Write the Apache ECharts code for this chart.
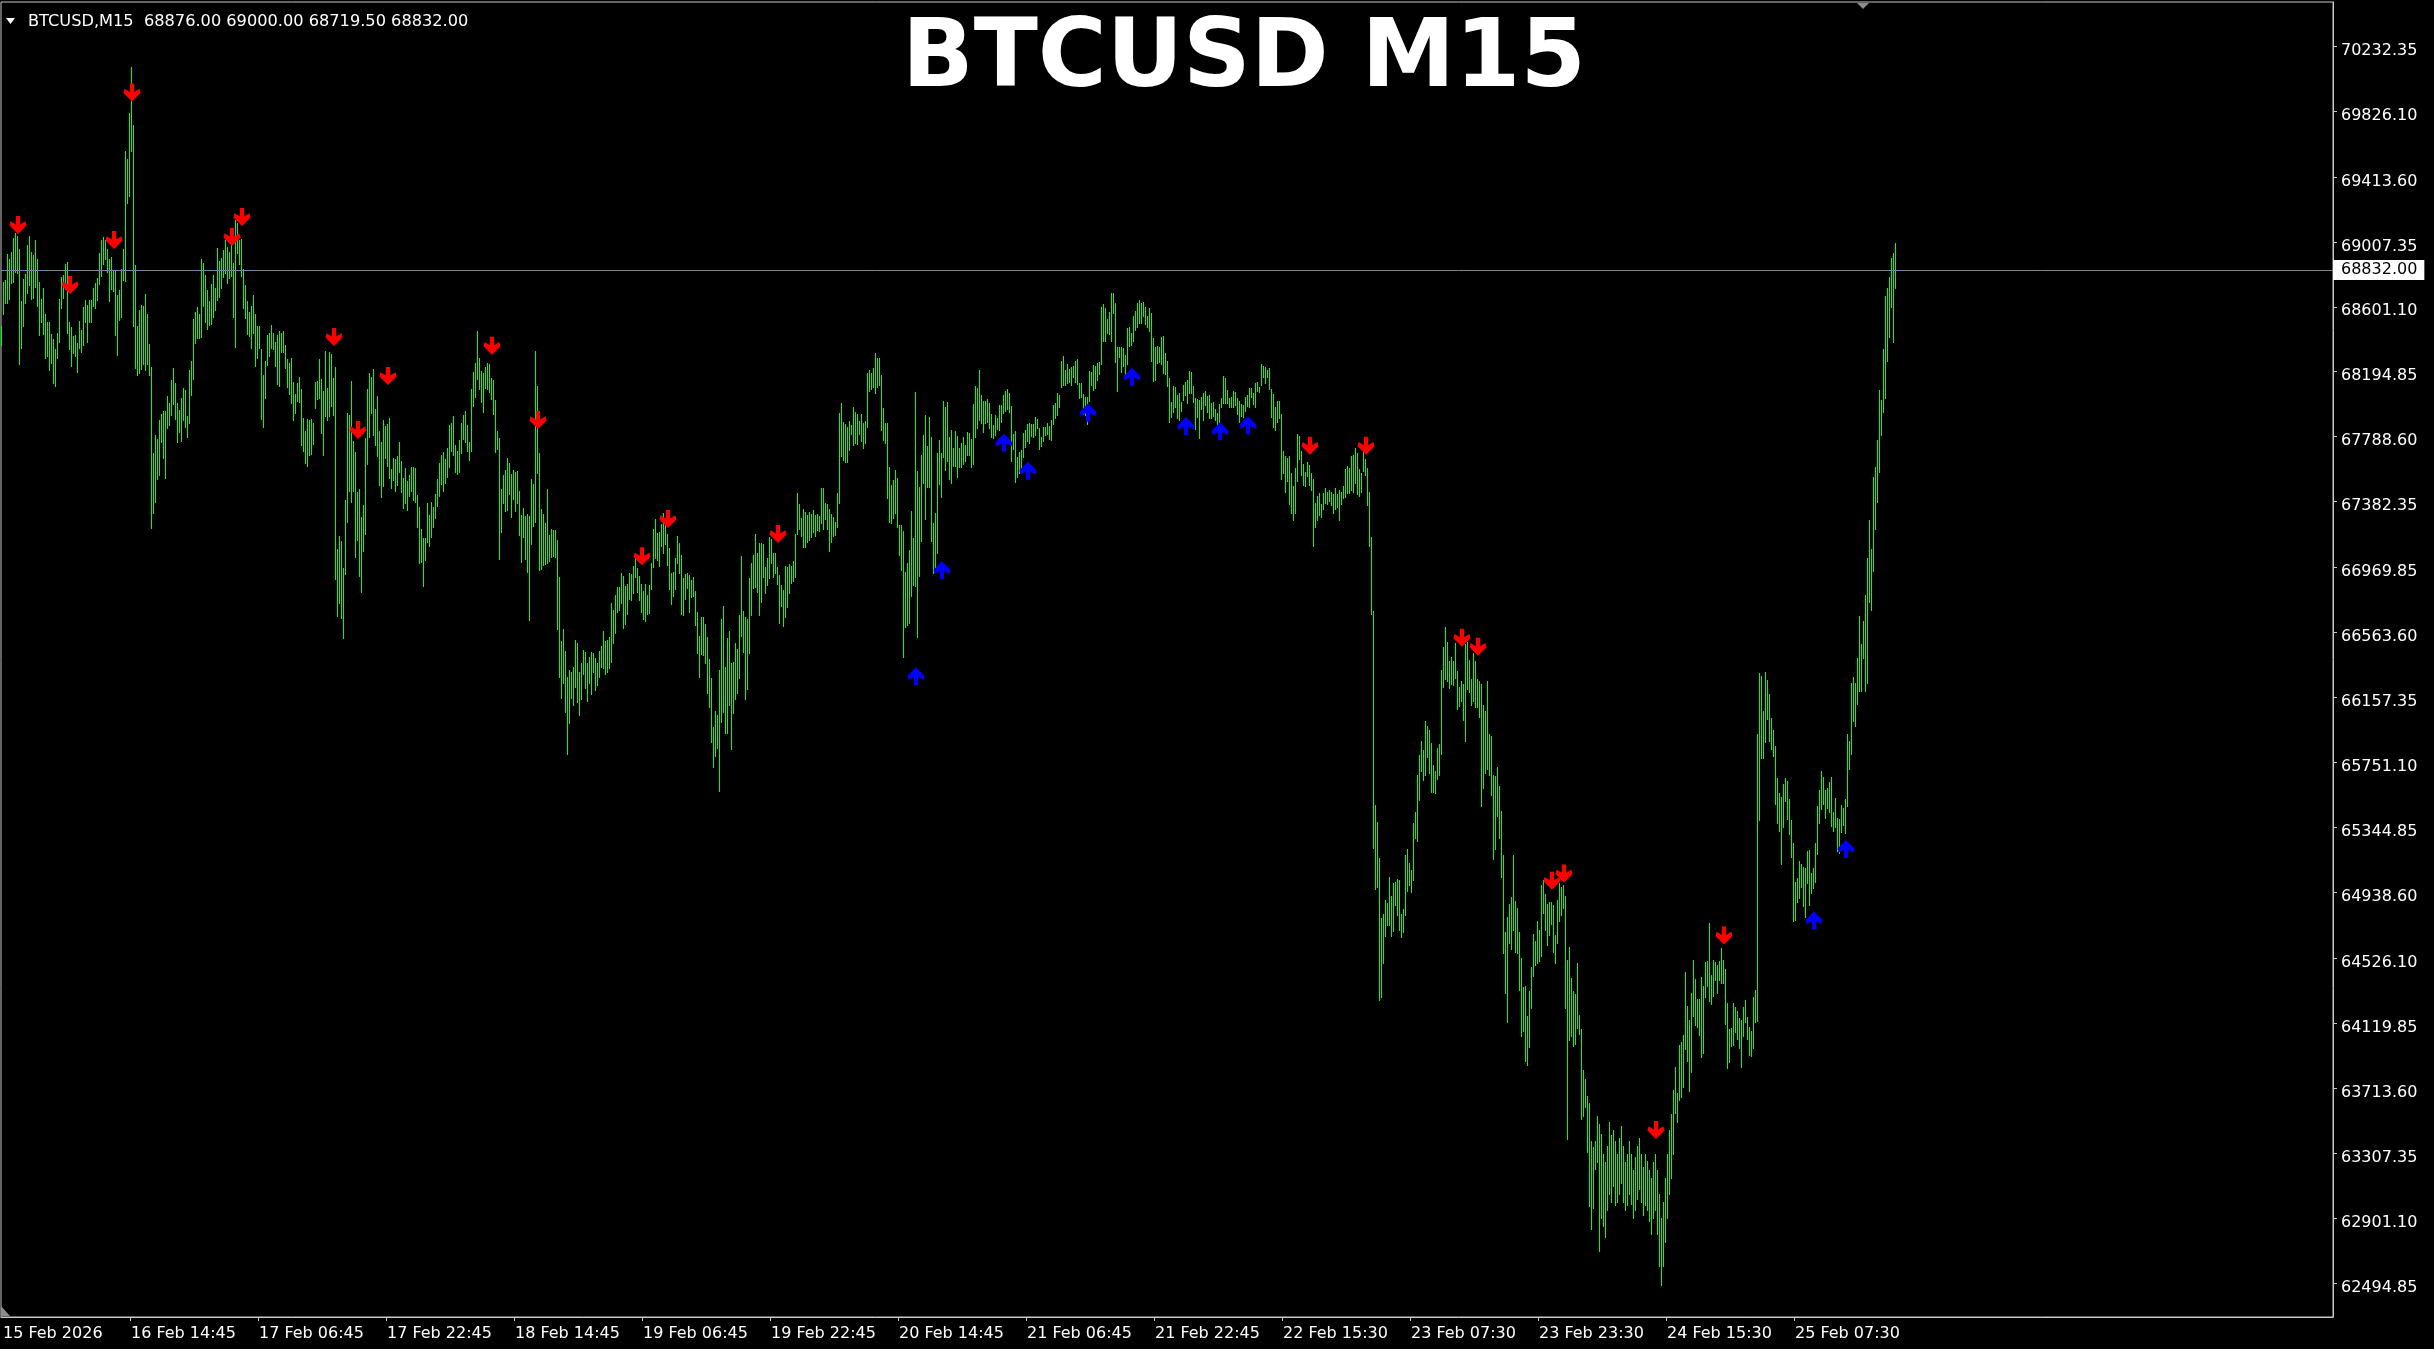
<!DOCTYPE html>
<html><head><meta charset="utf-8">
<script src="https://cdn.jsdelivr.net/npm/echarts@6.0.0/dist/echarts.min.js"></script>
<style>html,body{margin:0;padding:0;background:#000;overflow:hidden}#c{width:2434px;height:1349px}</style>
</head><body><div id="c"></div>
<script>
// ---- data (BTCUSD M15 bar highs / lows, bar index = position in array) ----
const highs = [
68483,68759,68771,68931,68902,68945,69034,69063,69046,68962,
68639,68775,68806,68986,69041,68943,68926,69017,68902,68759,
68651,68718,68555,68507,68503,68431,68400,68340,68435,68651,
68787,68799,68871,68883,68503,68474,68416,68424,68376,68514,
68459,68598,68644,68615,68646,68644,68718,68747,68783,68938,
69017,69039,69017,68962,68902,68914,68830,68826,68675,68704,
68835,68962,69575,69525,69812,70102,69738,68862,68483,68584,
68615,68608,68680,68555,68371,68225,67688,67801,67777,67890,
67933,67952,67952,68040,68000,68141,68220,68124,68000,67957,
68028,68095,68081,67921,68208,68263,68526,68567,68598,68555,
68902,68878,68802,68706,68639,68742,68799,68718,68967,68890,
68907,68957,69017,68974,68945,69015,68878,69142,69125,69017,
69027,68838,68735,68639,68567,68608,68675,68555,68479,68479,
68340,68172,68263,68424,68440,68488,68440,68383,68424,68447,
68440,68447,68359,68277,68249,68280,68129,68057,68124,68160,
68088,67904,67825,67897,67890,67897,67873,68129,68136,68273,
68147,68077,68325,68094,68316,68304,68154,68223,67089,67170,
67136,66967,67390,67934,67927,68135,67760,67691,67441,67464,
67284,67360,67783,68084,68186,68165,68209,67962,68043,67823,
67753,67890,67858,67869,67904,67584,67654,67649,67668,67758,
67638,67529,67591,67510,67552,67598,67598,67591,67422,67348,
67210,67152,67156,67372,67298,67383,67348,67429,67522,67621,
67672,67691,67649,67719,67862,67874,67915,67737,67702,67770,
67874,67922,67950,67862,67753,68084,68193,68251,68447,68279,
68200,68188,68223,68251,68246,68158,68142,68015,67823,67781,
67464,67552,67580,67656,67626,67557,67580,67568,67573,67452,
67298,67341,67295,67307,67291,67522,67492,68325,68107,67684,
67337,67302,67249,67460,67175,67214,67203,67205,67140,66909,
66511,66585,66446,66284,66330,66319,66346,66515,66497,66314,
66372,66457,66441,66376,66411,66441,66434,66407,66376,66450,
66481,66573,66511,66515,66534,66747,66705,66798,66846,66851,
66937,66916,66856,66867,66939,66932,66978,67052,66967,66920,
66867,66823,66867,66798,66861,66997,67209,67274,67184,67195,
67240,67313,67251,67180,67090,66934,66944,67028,67167,67126,
67049,66903,66928,66938,66924,66892,66909,66823,66694,66542,
66663,66659,66617,66538,66398,66277,65975,66073,66048,66329,
66648,66730,66350,66531,66573,66375,66381,66496,66459,66673,
67042,66698,66659,66646,66907,66997,67049,67180,67063,67122,
67122,67117,66972,67028,67159,67147,67059,67063,66976,66924,
66861,66830,66980,66972,66992,66982,67013,67180,67434,67368,
67282,67334,67320,67299,67320,67305,67330,67299,67305,67293,
67466,67466,67372,67368,67334,67303,67284,67257,67439,67935,
67997,67883,67866,67851,67889,67862,67972,67945,67931,67887,
67928,67872,67889,68189,68206,68189,68216,68310,68279,68279,
68175,67966,67876,67872,67601,67487,67518,67580,67528,67236,
67236,67199,66944,67001,67080,67324,67153,68070,67574,67476,
67674,67799,67924,67733,67910,67785,67251,67309,67689,67768,
67689,68014,67976,68008,67785,67831,67716,67826,67793,67716,
67747,67784,67736,67820,67809,67772,67993,68105,68091,68206,
68049,68014,68012,68024,67997,67930,67862,67924,67903,67987,
67985,68049,68076,68085,68060,67980,67805,67824,67663,67690,
67705,67809,67830,67868,67872,67868,67868,67909,67897,67841,
67789,67847,67851,67872,67855,67893,67987,68001,68064,68051,
68264,68293,68206,68241,68210,68226,68230,68264,68272,68126,
68122,68055,68034,68039,68201,68193,68237,68230,68247,68258,
68602,68618,68591,68522,68570,68685,68685,68623,68347,68347,
68351,68345,68299,68466,68472,68439,68543,68575,68627,68643,
68623,68633,68602,68543,68591,68564,68404,68351,68356,68351,
68414,68418,68310,68264,68153,68003,68105,68101,68049,68064,
68003,68112,68133,68143,68201,68195,68105,68028,68022,68018,
68034,68060,68076,68043,68049,67997,68003,67960,67939,67993,
68028,68168,68153,68080,68028,68039,68076,68066,68028,68014,
67993,67987,68034,68049,68091,68091,68064,68122,68133,68101,
68243,68230,68226,68206,68216,68087,68055,67972,68014,68014,
67930,67700,67665,67654,67665,67560,67479,67595,67805,67795,
67700,67619,67567,67630,67612,67560,67524,67374,67419,67437,
67367,67437,67465,67444,67454,67444,67430,67465,67430,67454,
67444,67479,67584,67605,67595,67665,67675,67718,67689,67584,
67560,67700,67647,67595,67444,67163,66700,65482,65376,65155,
64780,64804,64892,64874,65032,64916,64997,65004,65022,65015,
64804,64832,65173,65208,65120,65078,65373,65443,65671,65798,
65885,65829,66008,65980,65956,65875,65734,65699,65840,65868,
66331,66471,66601,66507,66384,66412,66384,66496,66321,66226,
66261,66243,66489,66507,66391,66271,66436,66384,66271,66261,
66243,66110,66075,66261,65927,65917,65675,65664,65724,65604,
65446,65173,64692,64787,64867,64910,65173,64885,64839,64692,
64530,64348,64355,64165,64320,64471,64681,64636,64762,64706,
64987,65015,64927,64864,64881,64881,64857,64671,64892,64997,
64969,64987,64916,64516,64594,64401,64320,64302,64495,64172,
64085,63828,63769,63663,63618,63383,63348,63383,63541,63488,
63430,63300,63250,63350,63500,63420,63450,63380,63300,63400,
63480,63350,63250,63300,63380,63300,63200,63280,63350,63400,
63300,63220,63300,63260,63200,63150,63250,63300,63200,63050,
62900,63000,63150,63300,63450,63550,63700,63844,63686,63984,
64002,64047,64441,64230,64142,64307,64518,64398,64272,64272,
64412,64353,64504,64511,64746,64423,64518,64504,64483,64511,
64588,64518,64458,64248,64083,64090,64248,64223,64195,64153,
64142,64223,64265,64160,64097,64072,64283,64328,65932,66308,
66294,66073,66318,66266,66178,66027,65957,65852,65652,65557,
65536,65616,65652,65634,65522,65388,65248,65002,65030,65136,
65115,65097,65090,65195,65202,65062,65090,65248,65476,65581,
65697,65662,65581,65592,65627,65662,65441,65529,65406,65395,
65487,65466,65522,65932,65887,66245,66283,66248,66406,66669,
66494,66634,66799,67031,67266,67084,67536,67600,67768,68081,
68021,68337,68670,68716,68786,68905,68940,69000
];
const lows = [
68359,68555,68627,68627,68651,68751,68759,68818,68811,68244,
68344,68483,68627,68687,68735,68651,68656,68723,68608,68424,
68503,68431,68280,68292,68208,68249,68124,68107,68280,68383,
68596,68656,68711,68435,68340,68230,68311,68292,68196,68344,
68316,68364,68503,68383,68503,68507,68603,68596,68646,68742,
68795,68866,68902,68818,68639,68711,68699,68424,68301,68519,
68538,68766,68764,69249,69297,69577,68483,68220,68172,68184,
68215,68244,68208,68244,68177,67219,67310,67382,67526,67550,
67753,67657,67530,67844,67861,67925,67992,67897,67753,67820,
67760,67890,67849,67784,67873,68052,68148,68376,68407,68407,
68412,68608,68507,68464,68488,68495,68536,68579,68646,68663,
68716,68790,68814,68747,68783,68795,68538,68352,68938,68871,
68795,68591,68531,68431,68416,68344,68435,68232,68280,68344,
67897,67849,68033,68239,68292,68344,68340,68232,68117,68107,
68316,68320,68220,68100,68057,68000,67890,67937,68009,68004,
67734,67698,67621,67605,67674,67681,67741,67969,68024,68028,
67811,67677,67915,67892,67920,67980,67927,66897,66666,66751,
66654,66532,66932,67256,67452,67383,67452,67036,67140,66920,
66816,67075,67182,67619,67788,67938,67800,67737,67668,67487,
67413,67483,67656,67608,67529,67469,67515,67446,67487,67568,
67441,67344,67376,67330,67418,67452,67395,67383,67221,67001,
67006,66856,67020,67129,67105,67159,67221,67279,67353,67418,
67494,67448,67499,67538,67598,67696,67672,67568,67557,67568,
67684,67776,67753,67702,67642,67696,67980,68036,68151,68089,
68008,67943,68094,68084,68070,68024,67932,67691,67714,67024,
67193,67372,67321,67330,67429,67286,67399,67325,67372,67175,
67006,67163,67024,66943,66643,67117,67233,67256,67561,66955,
66960,66983,66990,67001,67013,67036,67043,67036,66585,66284,
66157,66249,66064,65805,65995,66157,66110,66226,66129,66046,
66150,66307,66214,66133,66249,66180,66319,66203,66238,66284,
66349,66342,66302,66319,66342,66381,66499,66562,66694,66705,
66747,66592,66620,66682,66775,66770,66812,66909,66816,66765,
66694,66646,66638,66680,66684,66834,66972,67028,67017,66980,
67105,67063,67115,66986,66834,66742,66794,66834,66997,66934,
66680,66673,66771,66840,66694,66788,66792,66611,66438,66288,
66429,66423,66371,66187,66100,65881,65725,65793,65839,65574,
66002,66069,65937,65937,66110,65833,66062,66146,66183,66277,
66542,66444,66146,66208,66438,66673,66840,66846,66819,66673,
66757,66913,66809,66861,66903,66997,66909,66934,66867,66625,
66730,66607,66659,66725,66813,66876,66888,66913,67180,67209,
67167,67101,67097,67132,67142,67159,67195,67167,67205,67201,
67251,67209,67274,67209,67076,67132,67167,67174,67222,67376,
67668,67643,67628,67632,67705,67806,67737,67751,67743,67806,
67762,67716,67747,67851,68077,68085,68101,68064,68097,68112,
67831,67768,67747,67403,67257,67247,67278,67309,67226,67049,
66955,66413,66596,66611,66621,66792,66861,66855,66534,66917,
67138,67497,67272,67476,67472,67138,66934,66976,67063,67493,
67409,67660,67580,67639,67522,67501,67605,67605,67539,67601,
67597,67618,67638,67674,67674,67597,67618,67789,67841,67893,
67872,67820,67872,67882,67841,67789,67778,67799,67834,67830,
67882,67934,67951,67960,67941,67638,67711,67507,67538,67563,
67580,67663,67726,67763,67751,67795,67784,67799,67845,67711,
67732,67763,67799,67805,67772,67768,67868,67907,67924,67972,
68097,68112,68112,68122,68133,68112,68164,68133,68118,68028,
68034,67930,67924,67868,68014,68112,68080,68095,68143,68181,
68243,68389,68389,68439,68431,68389,68564,68256,68076,68285,
68195,68230,68164,68243,68356,68362,68389,68456,68477,68497,
68497,68543,68493,68472,68452,68264,68139,68143,68251,68258,
68243,68185,68181,68105,67882,67914,67945,67976,67903,67893,
67951,68018,68049,68001,68060,68060,68007,67834,67914,67778,
67960,67893,67987,67945,67907,67903,67918,67893,67862,67882,
67972,67997,67997,68001,67972,67972,67976,67987,67930,67882,
67918,67914,67951,67980,67976,68034,67993,67976,68076,68070,
68112,68160,68122,68160,68085,67914,67847,67830,67882,67903,
67524,67560,67444,67514,67367,67314,67268,67314,67514,67647,
67549,67489,67479,67542,67489,67454,67103,67226,67268,67296,
67289,67338,67374,67367,67384,67360,67314,67338,67349,67268,
67367,67402,67409,67437,67437,67454,67444,67500,67430,67419,
67444,67577,67549,67360,67103,66682,65218,64962,64973,64267,
64285,64495,64664,64734,64734,64664,64699,64857,64794,64706,
64657,64688,64797,64945,64987,64938,65015,65278,65261,65513,
65699,65640,65675,65787,65682,65569,65569,65559,65647,65675,
65805,66226,66271,66261,66215,66243,66236,66278,66085,66103,
66138,66015,65885,66208,66191,66113,66138,66096,66096,66033,
65478,65594,65682,65710,65675,65548,65145,65208,65418,65278,
65032,64558,64306,64130,64622,64583,64706,64565,64558,64330,
64042,64074,63885,63857,63969,64215,64418,64481,64495,64506,
64541,64811,64706,64611,64671,64741,64565,64495,64622,64759,
64797,64839,64215,63393,64014,64039,63979,63990,64092,64050,
63523,63541,63593,63312,62979,62832,62961,63207,63253,62698,
62900,62850,62780,62950,63050,63000,63100,62980,63000,63050,
63120,63000,62950,62980,63050,62990,62900,62950,63020,63080,
63000,62920,62980,62950,62880,62800,62900,62950,62800,62600,
62480,62600,62750,62900,63050,63150,63300,63560,63500,63640,
63661,63721,63956,63886,63696,63816,64167,64107,64097,64047,
63907,63932,64283,64353,64258,64237,64290,64388,64307,64388,
64370,64370,64118,63837,63879,63977,63984,64062,64019,63967,
63844,64037,64125,64019,63921,63914,63967,64125,64132,65388,
65781,65781,65880,66020,65887,65838,65792,65494,65371,65325,
65115,65346,65511,65395,65301,65160,64757,64764,64879,64904,
64974,64855,64785,64995,64862,64932,64967,65002,65178,65371,
65459,65494,65406,65466,65441,65353,65325,65346,65195,65185,
65318,65360,65311,65476,65711,65802,66013,65978,66118,66196,
66196,66406,66196,66248,66757,66705,66950,67214,67382,67565,
67800,67944,68028,68260,68414,68600,68379,68719.5
];
// sell (red, down) and buy (blue, up) arrow signals: bar index and price level
const sellBars   = [8,34,56,65,115,120,166,178,193,245,268,320,333,388,654,682,730,738,775,781,827,861];
const sellPrices = [69113,68737,69019,69942,69038,69163,68412,67830,68168,68357,67893,67040,67274,67180,67732,67732,66531,66475,65011,65057,63452,64668];
const buyBars    = [457,470,501,513,543,565,592,609,623,906,922];
const buyPrices  = [66290,66953,67751,67576,67939,68164,67855,67822,67860,64763,65209];
// axis labels
const xLabelBars  = [0,64,128,192,256,320,384,448,512,576,640,704,768,832,896];
const xLabelTexts = ['15 Feb 2026','16 Feb 14:45','17 Feb 06:45','17 Feb 22:45','18 Feb 14:45','19 Feb 06:45','19 Feb 22:45','20 Feb 14:45','21 Feb 06:45','21 Feb 22:45','22 Feb 15:30','23 Feb 07:30','23 Feb 23:30','24 Feb 15:30','25 Feb 07:30'];
const yTickValues = [70232.35,69826.10,69413.60,69007.35,68601.10,68194.85,67788.60,67382.35,66969.85,66563.60,66157.35,65751.10,65344.85,64938.60,64526.10,64119.85,63713.60,63307.35,62901.10,62494.85];
const currentPrice = 68832.00;
const headerText = 'BTCUSD,M15  68876.00 69000.00 68719.50 68832.00';
const titleText = 'BTCUSD M15';

// ---- chart ----
const totalSlots = 1166; // bar slots incl. right-side chart shift space
const cats = Array.from({length: totalSlots}, (_, i) => String(i));
const labelMap = new Map(xLabelBars.map((b, k) => [b, xLabelTexts[k]]));
const barColor = '#00ff00';
const frame = '#c8c8c8';
const FONT = 'DejaVu Sans';
const downPath = 'path://M6,0 L10,0 L10,8 L15,5 L16,9 L8,17 L0,9 L1,5 L6,8 Z';
const upPath   = 'path://M6,17 L10,17 L10,9 L15,12 L16,8 L8,0 L0,8 L1,12 L6,9 Z';

const chart = echarts.init(document.getElementById('c'), null, {renderer: 'canvas'});
chart.setOption({
  backgroundColor: '#000000',
  animation: false,
  grid: {left: 1, top: 2, width: 2332, height: 1315, show: true, borderColor: frame, borderWidth: 1, backgroundColor: 'transparent'},
  xAxis: {
    type: 'category', data: cats, boundaryGap: true,
    axisLine: {show: true, lineStyle: {color: frame, width: 1}},
    axisTick: {show: true, alignWithLabel: true, length: 4, interval: (i) => i > 0 && labelMap.has(i), lineStyle: {color: frame}},
    axisLabel: {interval: (i) => labelMap.has(i), formatter: (v) => labelMap.get(Number(v)) || '', align: 'left',
      color: '#ffffff', fontFamily: FONT, fontSize: 16, margin: 9, padding: [0, 0, 0, 1]},
    splitLine: {show: false}
  },
  yAxis: {
    type: 'value', position: 'right', min: 62282.2, max: 70507.6, scale: true,
    axisLine: {show: true, lineStyle: {color: frame, width: 1}},
    axisTick: {show: true, length: 4, customValues: yTickValues, lineStyle: {color: frame}},
    axisLabel: {customValues: yTickValues, formatter: (v) => Number(v).toFixed(2), color: '#ffffff', fontFamily: FONT, fontSize: 16, margin: 8,
      verticalAlign: 'top', lineHeight: 9},
    splitLine: {show: false}
  },
  series: [
    {
      type: 'custom', silent: true, clip: true,
      data: highs.map((h, i) => [i, h, lows[i]]),
      encode: {x: 0, y: [1, 2]},
      renderItem: function (params, api) {
        const i = api.value(0);
        const a = api.coord([i, api.value(1)]);
        const b = api.coord([i, api.value(2)]);
        const x = Math.round(a[0]) - 1;
        const y1 = Math.round(a[1]);
        const y2 = Math.round(b[1]);
        return {type: 'rect', shape: {x: x, y: y1, width: 1, height: Math.max(1, y2 - y1 + 1)}, style: {fill: barColor}};
      },
      markLine: {
        silent: true, symbol: ['none', 'none'], animation: false,
        lineStyle: {color: '#778899', width: 1, type: 'solid'},
        label: {show: true, position: 'end', distance: 0, formatter: currentPrice.toFixed(2),
          backgroundColor: '#ffffff', color: '#000000', fontFamily: FONT, fontSize: 16, padding: [3, 7, 1, 8]},
        data: [{yAxis: currentPrice}]
      },
      z: 2
    },
    {
      type: 'scatter', silent: true, symbol: downPath, symbolSize: [17, 18], z: 5,
      itemStyle: {color: '#ff0000', opacity: 1},
      data: sellBars.map((b, k) => [b, sellPrices[k]])
    },
    {
      type: 'scatter', silent: true, symbol: upPath, symbolSize: [17, 18], z: 5,
      itemStyle: {color: '#0000ff', opacity: 1},
      data: buyBars.map((b, k) => [b, buyPrices[k]])
    }
  ],
  graphic: [
    {type: 'text', left: 1244 - 342, top: 15, z: 10, style: {text: titleText, fill: '#ffffff', font: 'bold 94px "DejaVu Sans"'}},
    {type: 'polygon', z: 10, shape: {points: [[6, 18], [15, 18], [10.5, 24]]}, style: {fill: '#ffffff'}},
    {type: 'text', left: 28, top: 14, z: 10, style: {text: headerText, fill: '#ffffff', font: '16.2px "DejaVu Sans"'}},
    {type: 'polygon', z: 10, shape: {points: [[1857, 3], [1869, 3], [1863, 9]]}, style: {fill: '#8c8c8c'}},
    {type: 'polygon', z: 10, shape: {points: [[1, 1306], [1, 1316], [10, 1316]]}, style: {fill: '#8c8c8c'}}
  ]
});
</script>
</body></html>
